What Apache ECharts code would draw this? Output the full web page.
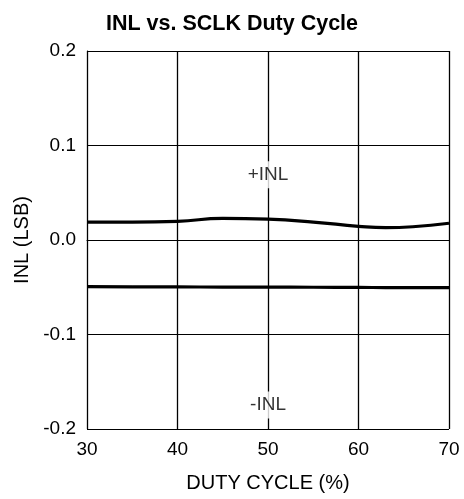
<!DOCTYPE html>
<html><head><meta charset="utf-8">
<script src="https://cdn.jsdelivr.net/npm/echarts@6/dist/echarts.min.js"></script>
<style>html,body{margin:0;padding:0;background:#fff}#c{width:464px;height:499px}</style>
</head><body><div id="c"></div>
<script>
const title = 'INL vs. SCLK Duty Cycle';
const xName = 'DUTY CYCLE (%)';
const yName = 'INL (LSB)';
const dutyCycle = [30, 35, 40, 45, 50, 55, 60, 63, 66, 70];
const plusINL = [0.019, 0.019, 0.0198, 0.0228, 0.022, 0.019, 0.0145, 0.013, 0.014, 0.0177];
const minusINL = [-0.0494, -0.0496, -0.0497, -0.0498, -0.0499, -0.050, -0.0502, -0.0503, -0.0504, -0.0505];
const labelText = ['+INL', '-INL'];
const labelAt = [[50, 0.069], [50, -0.1745]];

const font = 'Liberation Sans, Arial, Helvetica, sans-serif';
const chart = echarts.init(document.getElementById('c'));
const mk = (xs, ys) => xs.map((x, i) => [x, ys[i]]);
chart.setOption({
  animation: false,
  backgroundColor: '#fff',
  title: {text: title, left: 'center', top: 8, textStyle: {fontFamily: font, fontSize: 21.5, fontWeight: 'bold', color: '#000'}},
  grid: {left: 87, right: 15, top: 51, bottom: 70},
  xAxis: {
    type: 'value', min: 30, max: 70, interval: 10,
    name: xName, nameLocation: 'middle', nameGap: 44,
    nameTextStyle: {fontFamily: font, fontSize: 20, color: '#000'},
    axisLine: {lineStyle: {color: '#000', width: 1}},
    axisTick: {show: false},
    axisLabel: {fontFamily: font, fontSize: 19, color: '#000', margin: 11},
    splitLine: {show: true, lineStyle: {color: '#000', width: 1.3}}
  },
  yAxis: {
    type: 'value', min: -0.2, max: 0.2, interval: 0.1,
    name: yName, nameLocation: 'middle', nameGap: 52,
    nameTextStyle: {fontFamily: font, fontSize: 20, color: '#000'},
    axisLine: {lineStyle: {color: '#000', width: 1}},
    axisTick: {show: false},
    axisLabel: {fontFamily: font, fontSize: 19, color: '#000', margin: 11, formatter: v => v.toFixed(1)},
    splitLine: {show: true, lineStyle: {color: '#000', width: 1}}
  },
  series: [
    {type: 'line', data: mk(dutyCycle, plusINL), smooth: 0.5, showSymbol: false,
     lineStyle: {color: '#000', width: 3.2}, z: 3},
    {type: 'line', data: mk(dutyCycle, minusINL), smooth: true, showSymbol: false,
     lineStyle: {color: '#000', width: 3.2}, z: 3},
    {type: 'scatter', data: labelAt.map((p, i) => ({value: p, name: labelText[i]})),
     symbolSize: 0, z: 5,
     label: {show: true, position: 'inside', formatter: p => p.name, fontFamily: font, fontSize: 19, color: '#000',
             textBorderWidth: 0, backgroundColor: '#fff', padding: [4, 2]}}
  ]
});
</script></body></html>
